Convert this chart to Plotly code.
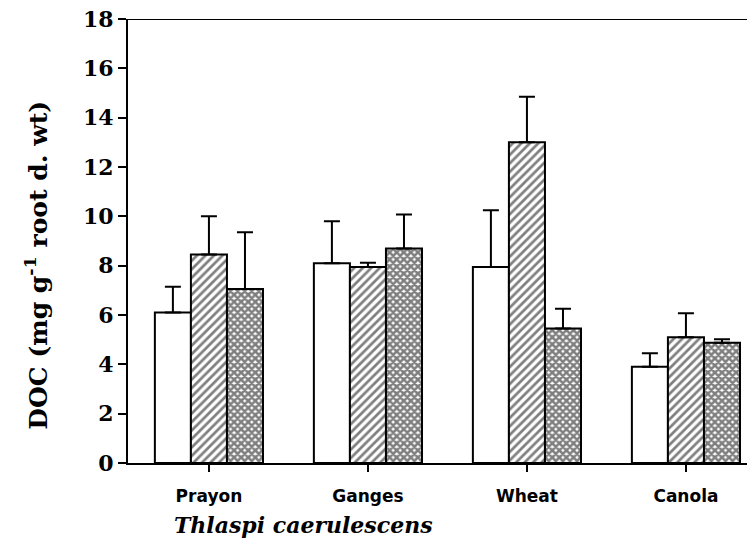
import plotly.graph_objects as go

# Dissolved organic carbon released by roots, by plant type
categories = ["Prayon", "Ganges", "Wheat", "Canola"]
series_a = [6.1, 8.1, 7.95, 3.9]
series_a_err = [1.05, 1.7, 2.3, 0.55]
series_b = [8.45, 7.95, 13.0, 5.1]
series_b_err = [1.55, 0.17, 1.85, 0.97]
series_c = [7.05, 8.7, 5.45, 4.87]
series_c_err = [2.3, 1.37, 0.8, 0.15]

y_ticks = [0, 2, 4, 6, 8, 10, 12, 14, 16, 18]

fig = go.Figure()

def add_series(values, errors, pattern):
    fig.add_trace(go.Bar(
        x=categories,
        y=values,
        marker=dict(
            color="white",
            line=dict(color="black", width=2),
            pattern=pattern,
        ),
        error_y=dict(
            type="data",
            symmetric=False,
            array=errors,
            arrayminus=[0] * len(errors),
            color="black",
            thickness=2,
            width=8,
        ),
        showlegend=False,
    ))

add_series(series_a, series_a_err, dict(shape=""))
add_series(series_b, series_b_err,
           dict(shape="/", fgcolor="black", bgcolor="white", size=6, solidity=0.45))
add_series(series_c, series_c_err,
           dict(shape="x", fgcolor="black", bgcolor="white", size=5, solidity=0.75))

fig.update_layout(
    width=747,
    height=545,
    margin=dict(l=128, r=0, t=19, b=82),
    paper_bgcolor="white",
    plot_bgcolor="white",
    barmode="group",
    bargap=0.32,
    bargroupgap=0,
    font=dict(family="DejaVu Serif", color="black"),
    xaxis=dict(
        type="category",
        range=[-0.509, 3.384],
        showline=True,
        linecolor="black",
        linewidth=2,
        ticks="outside",
        ticklen=7,
        tickwidth=2,
        tickcolor="black",
        showgrid=False,
        ticklabelstandoff=10,
        tickfont=dict(family="DejaVu Sans", size=17, color="black", weight="bold"),
    ),
    yaxis=dict(
        range=[0, 18],
        tickvals=y_ticks,
        showline=True,
        linecolor="black",
        linewidth=2,
        ticks="outside",
        ticklen=8,
        tickwidth=2,
        tickcolor="black",
        showgrid=False,
        zeroline=False,
        tickfont=dict(family="DejaVu Serif", size=22, color="black", weight="bold"),
    ),
    shapes=[
        dict(type="line", xref="paper", yref="y", x0=-0.016, x1=1, y0=18, y1=18,
             line=dict(color="black", width=2)),
    ],
    annotations=[
        dict(text="<b>DOC (mg g<sup>-1</sup> root d. wt)</b>", xref="paper", yref="y",
             x=(37 - 128) / 619, y=8.0, xanchor="center", yanchor="middle",
             textangle=-90, showarrow=False,
             font=dict(family="DejaVu Serif", size=25, color="black")),
        dict(text="<b><i>Thlaspi caerulescens</i></b>", xref="paper", yref="paper",
             x=(172 - 128) / 619, y=-0.14, xanchor="left", yanchor="middle",
             showarrow=False,
             font=dict(family="DejaVu Serif", size=22, color="black")),
    ],
)

fig.write_html("out.html")
